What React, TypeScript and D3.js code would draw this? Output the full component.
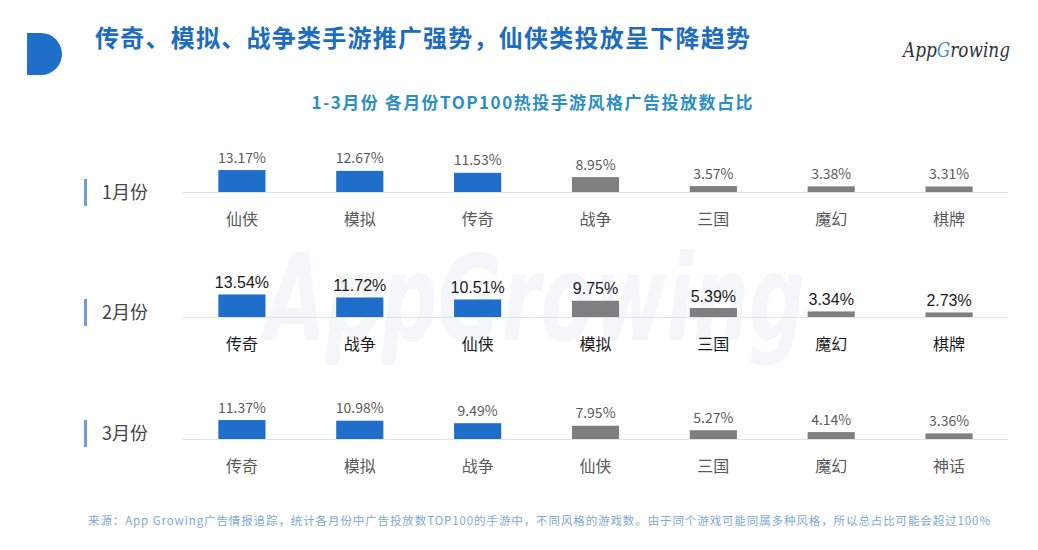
import React from "react";
import * as d3 from "d3";

const title = "传奇、模拟、战争类手游推广强势，仙侠类投放呈下降趋势";
const subtitle = "1-3月份 各月份TOP100热投手游风格广告投放数占比";
const footnote = "来源：App Growing广告情报追踪，统计各月份中广告投放数TOP100的手游中，不同风格的游戏数。由于同个游戏可能同属多种风格，所以总占比可能会超过100%";
const watermark = "AppGrowing";

const months = ["1月份", "2月份", "3月份"];
const cats1 = ["仙侠", "模拟", "传奇", "战争", "三国", "魔幻", "棋牌"];
const vals1 = [13.17, 12.67, 11.53, 8.95, 3.57, 3.38, 3.31];
const cats2 = ["传奇", "战争", "仙侠", "模拟", "三国", "魔幻", "棋牌"];
const vals2 = [13.54, 11.72, 10.51, 9.75, 5.39, 3.34, 2.73];
const cats3 = ["传奇", "模拟", "战争", "仙侠", "三国", "魔幻", "神话"];
const vals3 = [11.37, 10.98, 9.49, 7.95, 5.27, 4.14, 3.36];
const highlightCount = 3;

const rowsCats = [cats1, cats2, cats3];
const rowsVals = [vals1, vals2, vals3];

// layout
const W = 1038;
const H = 550;
const baselines = [192, 317, 439];
const labelCenters = [192, 312, 433];
const X0 = 183;
const X1 = 1008;

const BLUE = "#1f6fca";
const GRAY = "#7f7f7f";
const CJK = "'Noto Sans CJK SC', 'Noto Sans', sans-serif";

export default function App() {
  const x = d3
    .scaleBand<number>()
    .domain(d3.range(7))
    .range([X0, X1])
    .paddingInner(0.6)
    .paddingOuter(0.3);
  const h = d3.scaleLinear().domain([0, 15]).range([0, 25]);

  return (
    <svg
      width={W}
      height={H}
      style={{ position: "absolute", left: 0, top: 0, background: "#fff" }}
    >
      <rect x={0} y={0} width={W} height={H} fill="#ffffff" />
      {/* watermark */}
      <text
        x={265}
        y={340}
        fontFamily="'DejaVu Sans', sans-serif"
        fontStyle="italic"
        fontWeight={700}
        fontSize={120}
        fill="#f4f6f9"
        textLength={540}
        lengthAdjust="spacingAndGlyphs"
      >
        {watermark}
      </text>

      {/* header mark */}
      <path d="M27,33 H41 A21,21 0 0 1 41,75 H27 Z" fill={BLUE} />
      <text
        x={95}
        y={47}
        fontFamily={CJK}
        fontWeight={700}
        fontSize={24}
        fill="#1c6cc0"
        textLength={655}
        lengthAdjust="spacing"
      >
        {title}
      </text>

      {/* logo */}
      <text
        x={903}
        y={57}
        fontFamily="'DejaVu Serif', serif"
        fontStyle="italic"
        fontSize={21}
        fill="#2f3338"
        textLength={107}
        lengthAdjust="spacingAndGlyphs"
      >
        App<tspan fill="#4b8fd6">G</tspan>rowing
      </text>

      <text
        x={532}
        y={109}
        textAnchor="middle"
        fontFamily={CJK}
        fontWeight={700}
        fontSize={17}
        fill="#2a8fc4"
        textLength={441}
        lengthAdjust="spacing"
      >
        {subtitle}
      </text>

      {months.map((m, r) => {
        const base = baselines[r];
        const dark = r === 1;
        const valFont = dark ? "'Liberation Sans', Arial, sans-serif" : CJK;
        const valSize = dark ? 16 : 14;
        const valColor = dark ? "#1a1a1a" : "#5a5a5a";
        const catColor = dark ? "#1a1a1a" : "#595959";
        return (
          <g key={m}>
            <rect
              x={84}
              y={labelCenters[r] - 13}
              width={3}
              height={27}
              fill="#6f9fd2"
            />
            <text
              x={102}
              y={labelCenters[r] + 7}
              fontFamily={CJK}
              fontSize={18}
              fill="#444"
            >
              {m}
            </text>
            <line x1={X0} x2={X1} y1={base + 0.5} y2={base + 0.5} stroke="#dfe3e8" strokeWidth={1} />
            {rowsVals[r].map((v, i) => {
              const bh = h(v);
              const cx = (x(i) as number) + x.bandwidth() / 2;
              return (
                <g key={i}>
                  <rect
                    x={x(i)}
                    y={base - bh}
                    width={x.bandwidth()}
                    height={bh}
                    fill={i < highlightCount ? BLUE : GRAY}
                  />
                  <text
                    x={cx}
                    y={base - bh - (dark ? 6.5 : 7.5)}
                    textAnchor="middle"
                    fontFamily={valFont}
                    fontSize={valSize}
                    fill={valColor}
                  >
                    {v.toFixed(2)}%
                  </text>
                  <text
                    x={cx}
                    y={base + 33}
                    textAnchor="middle"
                    fontFamily={CJK}
                    fontSize={16}
                    fill={catColor}
                  >
                    {rowsCats[r][i]}
                  </text>
                </g>
              );
            })}
          </g>
        );
      })}

      <text
        x={88}
        y={525}
        fontFamily={CJK}
        fontSize={11.5}
        fill="#7ea8d8"
        textLength={902}
        lengthAdjust="spacing"
      >
        {footnote}
      </text>
    </svg>
  );
}
